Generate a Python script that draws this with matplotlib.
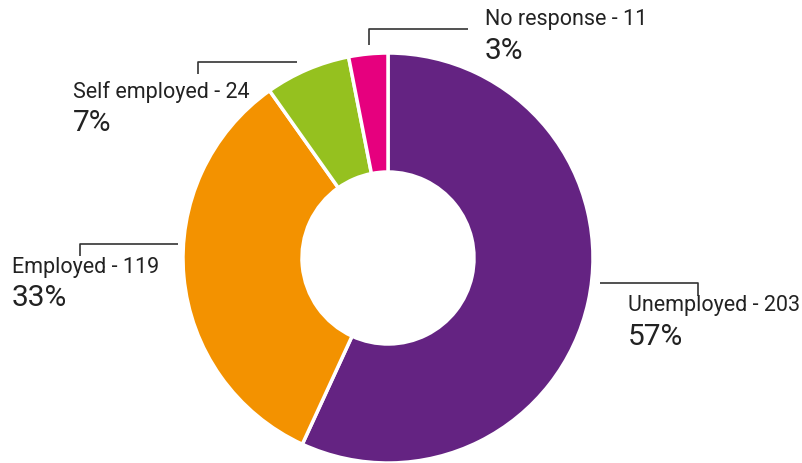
import matplotlib.pyplot as plt

# Employment status of respondents
labels = ['Unemployed', 'Employed', 'Self employed', 'No response']
counts = [203, 119, 24, 11]
colors = ['#642382', '#F39200', '#95C11F', '#E6007E']

W, H = 802, 463
fig = plt.figure(figsize=(W / 100, H / 100), dpi=100)
ax = fig.add_axes([0, 0, 1, 1])

# work in pixel units, y measured from the top
def py(y):
    return H - y

cx, cy, R, hole = 388, 258, 205, 86
ax.pie(counts, colors=colors, startangle=90, counterclock=False,
       center=(cx, py(cy)), radius=R,
       wedgeprops=dict(width=R - hole, edgecolor='white', linewidth=2.5))

ax.set_xlim(0, W)
ax.set_ylim(0, H)
ax.set_aspect('equal')
ax.axis('off')

total = sum(counts)
pct = [round(c / total * 100) for c in counts]

# leader line polylines (x, y) and text anchors for each slice
leaders = [
    [(600, 283), (698, 283), (698, 296)],
    [(178, 244), (80, 244), (80, 256)],
    [(297, 62), (198, 62), (198, 74)],
    [(369, 45), (369, 29), (468, 29)],
]
anchors = [(628, 306), (12, 267), (73, 92), (485, 20)]

for lab, n, p, pts, (tx, ty) in zip(labels, counts, pct, leaders, anchors):
    xs = [x for x, _ in pts]
    ys = [py(y) for _, y in pts]
    ax.plot(xs, ys, color='#333333', lw=1.2, solid_capstyle='butt')
    ax.text(tx, py(ty), f'{lab} - {n}', fontsize=15.5, color='#222222',
            va='center', ha='left', family='Roboto')
    ax.text(tx, py(ty + 31), f'{p}%', fontsize=21.5, color='#222222',
            va='center', ha='left', family='Roboto')

fig.savefig('out.png', dpi=100, facecolor='white')
